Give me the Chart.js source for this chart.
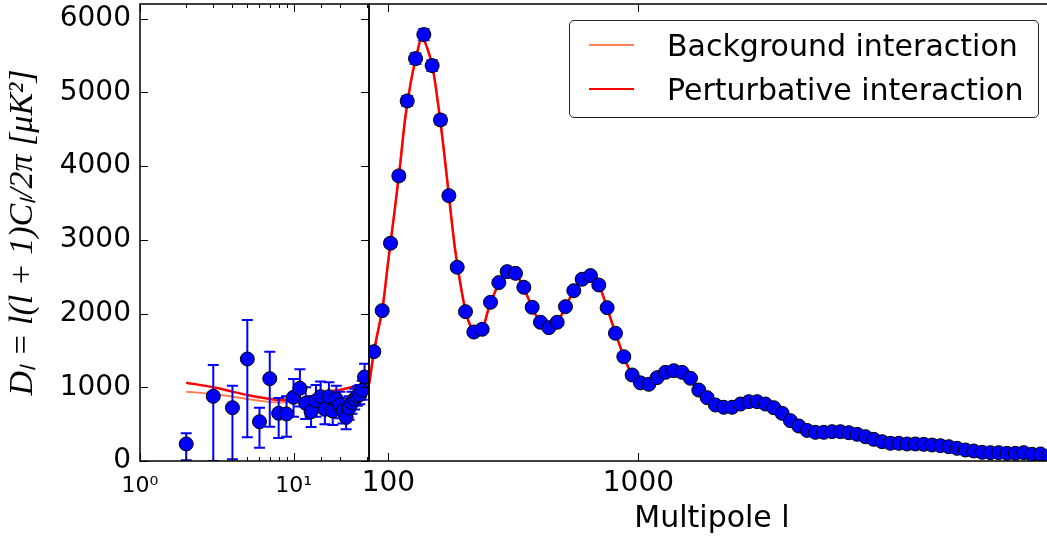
<!DOCTYPE html>
<html>
<head>
<meta charset="utf-8">
<script src="https://cdn.jsdelivr.net/npm/chart.js@4.4.1/dist/chart.umd.min.js"></script>
<style>
    html, body { margin: 0; padding: 0; background: #fff; overflow: hidden; }
    #wrap { position: relative; width: 1047px; height: 537px; overflow: hidden; }
    #leftBox { position: absolute; left: 0; top: 0; width: 372px; height: 537px; }
    #rightBox { position: absolute; left: 339px; top: 0; width: 716px; height: 537px; }
    #legend {
        position: absolute; left: 569px; top: 20px; width: 470px; height: 98px;
        box-sizing: border-box; border: 1.5px solid #222; border-radius: 5px; background: #fff;
        font-family: 'DejaVu Sans', sans-serif; font-size: 30px; color: #000;
    }
    #legend .row { position: absolute; left: 0; height: 44px; display: flex; align-items: center; }
    #legend .swatch { margin-left: 19px; width: 45px; height: 2px; }
    #legend .lbl { margin-left: 33px; white-space: nowrap; }
</style>
</head>
<body>
<div id="wrap">
    <div id="leftBox"><canvas id="lowChart"></canvas></div>
    <div id="rightBox"><canvas id="highChart"></canvas></div>
    <div id="legend"></div>
</div>
<script>
// low-l (unbinned) points, l = 2..29
const lowL = [2, 3, 4, 5, 6, 7, 8, 9, 10, 11, 12, 13, 14, 15, 16, 17, 18, 19, 20, 21, 22, 23, 24, 25, 26, 27, 28, 29];
const lowD = [231, 878, 723, 1384, 533, 1117, 647, 638, 864, 986, 783, 669, 814, 873, 701, 873, 678, 837, 760, 678, 593, 720, 790, 840, 880, 900, 960, 1140];
const lowUp = [376, 1303, 1022, 1913, 723, 1483, 855, 880, 1112, 1244, 1000, 880, 1030, 1080, 900, 1070, 870, 1020, 940, 850, 760, 880, 940, 980, 1010, 1030, 1090, 1320];
const lowDown = [10, 0, 23, 322, 181, 466, 312, 330, 600, 740, 570, 460, 600, 660, 500, 680, 490, 650, 580, 510, 430, 560, 640, 700, 750, 770, 830, 960];

// binned high-l points
const binL = [47.5, 77.5, 107.5, 137.5, 167.5, 197.5, 227.5, 257.5, 287.5, 317.5,
    347.5, 377.5, 407.5, 437.5, 467.5, 497.5, 527.5, 557.5, 587.5, 617.5,
    647.5, 677.5, 707.5, 737.5, 767.5, 797.5, 827.5, 857.5, 887.5, 917.5,
    947.5, 977.5, 1007.5, 1037.5, 1067.5, 1097.5, 1127.5, 1157.5, 1187.5, 1217.5,
    1247.5, 1277.5, 1307.5, 1337.5, 1367.5, 1397.5, 1427.5, 1457.5, 1487.5, 1517.5,
    1547.5, 1577.5, 1607.5, 1637.5, 1667.5, 1697.5, 1727.5, 1757.5, 1787.5, 1817.5,
    1847.5, 1877.5, 1907.5, 1937.5, 1967.5, 1997.5, 2027.5, 2057.5, 2087.5, 2117.5,
    2147.5, 2177.5, 2207.5, 2237.5, 2267.5, 2297.5, 2327.5, 2357.5, 2387.5, 2417.5,
    2447.5, 2477.5];
const binD = [1483, 2040, 2954, 3868, 4885, 5459, 5785, 5364, 4627, 3600,
    2629, 2026, 1750, 1787, 2153, 2420, 2569, 2546, 2357, 2086,
    1882, 1809, 1882, 2094, 2311, 2466, 2515, 2388, 2080, 1733,
    1415, 1167, 1060, 1041, 1131, 1203, 1225, 1203, 1122, 963,
    859, 760, 729, 729, 773, 805, 805, 773, 723, 647,
    547, 475, 415, 389, 389, 398, 398, 384, 362, 330,
    294, 262, 240, 240, 231, 231, 226, 217, 208, 194,
    172, 149, 136, 118, 113, 113, 104, 104, 113, 91,
    95, 72];
const binErr = [55, 50, 55, 60, 70, 75, 80, 75, 65, 55,
    45, 35, 30, 30, 30, 30, 30, 30, 28, 28,
    26, 26, 26, 26, 26, 26, 25, 25, 25, 24,
    24, 24, 23, 23, 22, 22, 22, 22, 22, 22,
    21, 21, 21, 20, 20, 20, 20, 20, 20, 20,
    20, 20, 20, 20, 20, 20, 20, 20, 20, 20,
    20, 20, 20, 20, 22, 22, 22, 23, 23, 24,
    24, 25, 25, 26, 27, 28, 29, 30, 31, 32,
    34, 36];

// theory curves: they differ only at low l
const lowTheoryL = [2, 3, 4, 5, 6, 7, 8, 10, 12, 15, 18, 20, 25];
const bgLow = [941, 909, 873, 841, 818, 800, 795, 810, 850, 910, 948, 963, 1008];
const pertLow = [1063, 1000, 941, 896, 864, 841, 828, 830, 860, 915, 950, 965, 1010];
const highTheoryL = [30, 40, 50, 60, 80, 100, 120, 140, 160, 180, 200, 220, 240, 260, 280, 300, 320, 340, 360, 380,
    400, 420, 440, 460, 480, 500, 520, 540, 560, 580, 600, 620, 640, 660, 680, 700, 720, 740, 760, 780,
    800, 820, 840, 860, 880, 900, 920, 940, 960, 980, 1000, 1020, 1040, 1060, 1080, 1100, 1120, 1140, 1160, 1180,
    1200, 1220, 1240, 1260, 1280, 1300, 1320, 1340, 1360, 1380, 1400, 1420, 1440, 1460, 1480, 1500,
    1550, 1600, 1650, 1700, 1750, 1800, 1850, 1900, 1950, 2000, 2050, 2100, 2150, 2200, 2250, 2300, 2350, 2400, 2450, 2500];
const highTheory = [1040, 1290, 1530, 1720, 2110, 2740, 3330, 3950, 4640, 5130, 5480, 5740, 5600, 5320, 4810, 4200, 3520, 2870, 2380, 2000,
    1800, 1740, 1800, 2060, 2260, 2430, 2550, 2565, 2540, 2400, 2240, 2060, 1920, 1840, 1810, 1850, 1960, 2110, 2260, 2390,
    2475, 2510, 2470, 2370, 2160, 1930, 1710, 1490, 1300, 1150, 1075, 1045, 1045, 1105, 1160, 1205, 1222, 1220, 1198, 1140,
    1050, 955, 880, 805, 755, 733, 729, 735, 765, 792, 805, 806, 790, 770, 735, 695,
    540, 430, 392, 396, 386, 340, 285, 245, 236, 229, 216, 200, 165, 138, 116, 110, 104, 100, 92, 75];

const yTicks = [0, 1000, 2000, 3000, 4000, 5000, 6000];
const seriesNames = ['Background interaction', 'Perturbative interaction'];

const theoryL = lowTheoryL.concat(highTheoryL);
const bgCurve = bgLow.concat(highTheory);
const pertCurve = pertLow.concat(highTheory);

const pts = (xs, ys) => xs.map((x, i) => ({ x: x, y: ys[i] }));

// error bars drawn under the markers
const errorBars = {
    id: 'errorBars',
    beforeDatasetDraw(chart, args) {
        const ds = chart.data.datasets[args.index];
        if (!ds.errUp) return;
        const ctx = chart.ctx, a = chart.chartArea;
        const xs = chart.scales.x, ys = chart.scales.y;
        ctx.save();
        ctx.beginPath();
        ctx.rect(a.left, a.top, a.right - a.left, a.bottom - a.top);
        ctx.clip();
        ctx.strokeStyle = ds.errColor;
        ctx.lineWidth = ds.errWidth;
        ds.data.forEach((p, i) => {
            const x = xs.getPixelForValue(p.x);
            const y1 = ys.getPixelForValue(ds.errUp[i]);
            const y2 = ys.getPixelForValue(ds.errDown[i]);
            const c = ds.errCap;
            ctx.beginPath();
            ctx.moveTo(x, y1); ctx.lineTo(x, y2);
            ctx.moveTo(x - c, y1); ctx.lineTo(x + c, y1);
            ctx.moveTo(x - c, y2); ctx.lineTo(x + c, y2);
            ctx.stroke();
        });
        ctx.restore();
    }
};

// matplotlib-like frame with inward ticks
const frame = {
    id: 'frame',
    afterDraw(chart, args, opts) {
        const ctx = chart.ctx, a = chart.chartArea;
        ctx.save();
        ctx.strokeStyle = '#000';
        ctx.lineWidth = 1;
        const xs = chart.scales.x;
        xs.ticks.forEach(t => {
            const px = Math.round(xs.getPixelForValue(t.value)) + 0.5;
            const len = opts.majorX.includes(Math.round(t.value)) ? 8 : 4;
            ctx.beginPath();
            ctx.moveTo(px, a.bottom); ctx.lineTo(px, a.bottom - len);
            ctx.moveTo(px, a.top); ctx.lineTo(px, a.top + len);
            ctx.stroke();
        });
        if (opts.yMarks) {
            const ys = chart.scales.y;
            ys.ticks.forEach(t => {
                const py = Math.round(ys.getPixelForValue(t.value)) + 0.5;
                ctx.beginPath();
                ctx.moveTo(a.left, py); ctx.lineTo(a.left + 8, py);
                ctx.moveTo(a.right, py); ctx.lineTo(a.right - 8, py);
                ctx.stroke();
            });
        }
        ctx.lineWidth = 1.5;
        ctx.strokeRect(a.left, a.top, a.right - a.left, a.bottom - a.top);
        ctx.restore();
    }
};

function theorySets() {
    return [{
        label: seriesNames[0],
        data: pts(theoryL, bgCurve),
        showLine: true,
        borderColor: '#ff7f50',
        borderWidth: 2,
        pointRadius: 0,
        cubicInterpolationMode: 'monotone',
        order: 2
    }, {
        label: seriesNames[1],
        data: pts(theoryL, pertCurve),
        showLine: true,
        borderColor: '#ff0000',
        borderWidth: 2.5,
        pointRadius: 0,
        cubicInterpolationMode: 'monotone',
        order: 1
    }];
}

// keep the plot area exactly where the axes say, no label padding
const fitX = s => { s.height = 76; s.paddingLeft = 0; s.paddingRight = 0; };
const fitY = s => { s.width = 140; s.paddingTop = 0; s.paddingBottom = 0; };

const yScale = {
    min: 0,
    max: 6200,
    bounds: 'data',
    afterBuildTicks: s => { s.ticks = yTicks.map(v => ({ value: v })); },
    grid: { display: false, drawTicks: false },
    border: { display: false }
};

Chart.defaults.font.family = "'DejaVu Sans', sans-serif";
Chart.defaults.color = '#000';

new Chart(document.getElementById('lowChart'), {
    type: 'scatter',
    data: {
        datasets: theorySets().concat([{
            label: 'low-l data',
            data: pts(lowL, lowD),
            errUp: lowUp,
            errDown: lowDown,
            errColor: '#0000ff',
            errWidth: 2,
            errCap: 5.5,
            pointRadius: 7,
            pointBackgroundColor: '#0000ff',
            pointBorderColor: '#000',
            pointBorderWidth: 1,
            order: 0
        }])
    },
    plugins: [errorBars, frame],
    options: {
        animation: false,
        responsive: true,
        maintainAspectRatio: false,
        layout: { autoPadding: false, padding: { top: 4, right: 3, left: 0, bottom: 0 } },
        plugins: { legend: { display: false }, tooltip: { enabled: false }, frame: { majorX: [1, 10], yMarks: true } },
        scales: {
            x: {
                type: 'logarithmic',
                min: 1,
                max: 31,
                afterBuildTicks: s => { s.ticks = s.ticks.filter(t => t.value <= 30); },
                afterFit: fitX,
                grid: { display: false, drawTicks: false },
                border: { display: false },
                ticks: {
                    autoSkip: false,
                    maxRotation: 0,
                    padding: 12,
                    font: { size: 22 },
                    callback: v => Math.round(v) === 1 ? '10⁰' : (Math.round(v) === 10 ? '10¹' : '')
                }
            },
            y: Object.assign({}, yScale, {
                afterFit: fitY,
                ticks: { padding: 9, font: { size: 28 }, callback: v => String(v) },
                title: {
                    display: true,
                    text: 'Dₗ = l(l + 1)Cₗ/2π [μK²]',
                    font: { family: "'Liberation Serif', serif", style: 'italic', size: 34 },
                    padding: { top: 3, bottom: 0 }
                }
            })
        }
    }
});

const highChart = new Chart(document.getElementById('highChart'), {
    type: 'scatter',
    data: {
        datasets: theorySets().concat([{
            label: 'binned data',
            data: pts(binL, binD),
            errUp: binD.map((d, i) => d + binErr[i]),
            errDown: binD.map((d, i) => d - binErr[i]),
            errColor: '#2a2aff',
            errWidth: 1.5,
            errCap: 6,
            pointRadius: 7,
            pointBackgroundColor: '#0000ff',
            pointBorderColor: '#000',
            pointBorderWidth: 1,
            order: 0
        }])
    },
    plugins: [errorBars, frame],
    options: {
        animation: false,
        responsive: true,
        maintainAspectRatio: false,
        // canvas starts left of the divider so the "100" label is not cut
        layout: { autoPadding: false, padding: { top: 4, right: 0, left: 30, bottom: 0 } },
        plugins: { legend: { display: false }, tooltip: { enabled: false }, frame: { majorX: [100, 1000], yMarks: false } },
        scales: {
            x: {
                type: 'linear',
                min: 30,
                max: 2500,
                bounds: 'data',
                afterBuildTicks: s => { s.ticks = [{ value: 100 }, { value: 1000 }]; },
                afterFit: fitX,
                grid: { display: false, drawTicks: false },
                border: { display: false },
                ticks: { autoSkip: false, maxRotation: 0, padding: 6, font: { size: 28 }, callback: v => String(v) },
                title: { display: true, text: 'Multipole l', font: { size: 30 }, padding: { top: 0, bottom: 0 } }
            },
            y: Object.assign({}, yScale, { display: false })
        }
    }
});

// legend box built from the line datasets
const legendEl = document.getElementById('legend');
highChart.data.datasets.filter(d => d.showLine).forEach((d, i) => {
    const row = document.createElement('div');
    row.className = 'row';
    row.style.top = (2 + i * 44) + 'px';
    const sw = document.createElement('div');
    sw.className = 'swatch';
    sw.style.background = d.borderColor;
    const lbl = document.createElement('div');
    lbl.className = 'lbl';
    lbl.textContent = d.label;
    row.appendChild(sw);
    row.appendChild(lbl);
    legendEl.appendChild(row);
});
</script>
</body>
</html>
